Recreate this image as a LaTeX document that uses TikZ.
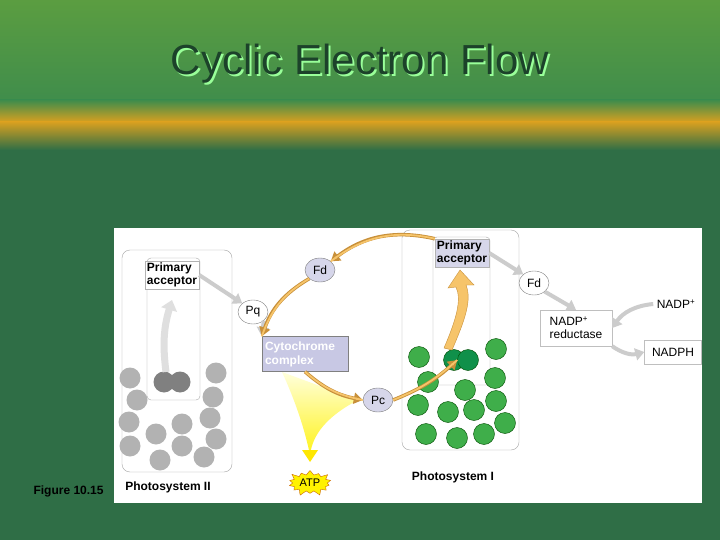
\documentclass[tikz,border=0pt]{standalone}
\usepackage{fontspec}
\setmainfont{Liberation Sans}
\usetikzlibrary{shapes.geometric,shapes.misc,shapes.symbols,arrows.meta}
\definecolor{bgtop}{HTML}{3E8C4C}
\definecolor{bgband}{HTML}{D8A020}
\definecolor{bgdark}{HTML}{2F6E46}
\definecolor{lav}{HTML}{D6D6EA}
\definecolor{cyt}{HTML}{C8C8E4}
\definecolor{pgreen}{HTML}{3FAE4A}
\definecolor{dgreen}{HTML}{10904A}
\definecolor{arr}{HTML}{F6C46A}
\definecolor{arrd}{HTML}{C8903A}
\tikzset{
 px/.style={x=1pt,y=-1pt},
 lbl/.style={font=\fontsize{12}{13}\selectfont},
 blbl/.style={font=\fontsize{12}{13}\selectfont\bfseries},
 ell/.style={ellipse,draw=gray,inner sep=1pt,minimum width=30pt,minimum height=24pt,lbl},
 gray arrow/.style={draw=gray!40,line width=4pt,-{Triangle[length=9pt,width=12pt]}},
 cyc/.style={draw=arrd,line width=3.5pt,-{Triangle[length=9pt,width=11pt,fill=arr]},postaction={draw=arr,line width=1.8pt,-}},
 psbox/.style={draw=gray!70,rounded corners=8pt,fill=white},
 gcirc/.style={circle,fill=gray!60,minimum size=21pt,inner sep=0pt},
 grcirc/.style={circle,fill=pgreen,draw=green!30!black,minimum size=21pt,inner sep=0pt},
}
\begin{document}
\begin{tikzpicture}[px]
\useasboundingbox (0,0) rectangle (720,540);
\shade[top color=bgtop!85!yellow,bottom color=bgtop] (0,0) rectangle (720,108);
\shade[top color=bgtop,bottom color=bgband] (0,100) rectangle (720,122);
\shade[top color=bgband,bottom color=bgdark] (0,122) rectangle (720,150);
\fill[bgdark] (0,150) rectangle (720,540);
\node[text=white!60!green,font=\fontsize{42}{46}\selectfont] at (362,66) {Cyclic Electron Flow};
\node (title) [text=bgdark!60!black,font=\fontsize{42}{46}\selectfont] at (360,64) {Cyclic Electron Flow};
% panel
\fill[white] (114,228) rectangle (702,503);
\node (fig) [blbl,anchor=west] at (30,491) {Figure 10.15};
% PSII
\draw[psbox] (122,250) rectangle (232,472);
\draw[draw=gray!70,rounded corners=4pt] (147,258) rectangle (200,400);
\foreach \p in {(130,378),(216,373),(137,400),(213,397),(129,422),(156,434),(182,424),(210,418),(130,446),(160,460),(182,446),(216,439),(204,457)}
  \node[gcirc] at \p {};
\node[gcirc,fill=gray] at (164,382) {};
\node[gcirc,fill=gray] (ps2c) at (180,382) {};
\node (pa2) [blbl,draw=gray!60,fill=white,align=left,inner sep=2pt] at (172,275) {Primary\\acceptor};
\draw[draw=gray!25,line width=7pt,-{Triangle[length=10pt,width=16pt]}] (166,372) to[bend left=12] (172,300);
\node (ps2) [blbl] at (168,487) {Photosystem II};
% PSI
\draw[psbox] (402,230) rectangle (519,450);
\draw[draw=gray!70,rounded corners=4pt] (433,237) rectangle (490,385);
\foreach \p in {(419,357),(496,349),(428,382),(495,378),(465,390),(418,405),(448,412),(474,410),(496,401),(426,434),(457,438),(484,434),(505,423)}
  \node[grcirc] at \p {};
\node[grcirc,fill=dgreen] at (454,360) {};
\node[grcirc,fill=dgreen] (ps1c) at (468,360) {};
\node (pa1) [blbl,draw=gray!60,fill=lav,align=left,inner sep=2pt] at (462,253) {Primary\\acceptor};
\node (ps1) [blbl] at (453,477) {Photosystem I};
% carriers
\node (pq) [ell,fill=white] at (253,312) {Pq};
\node (fd1) [ell,fill=lav] at (320,270) {Fd};
\node (pc) [ell,fill=lav] at (378,400) {Pc};
\node (fd2) [ell,fill=white] at (534,283) {Fd};
\node (cyt) [draw=gray,fill=cyt,text=white,font=\fontsize{12}{14}\selectfont\bfseries,align=left,minimum width=86pt,minimum height=35pt,inner sep=2pt,text width=80pt] at (305,354) {Cytochrome\\complex};
\node (red) [lbl,draw=gray!50,align=left,minimum width=72pt,minimum height=36pt] at (576,328) {NADP\textsuperscript{+}\\reductase};
\node (nadp) [lbl] at (676,304) {NADP\textsuperscript{+}};
\node (nadph) [lbl,draw=gray!50,minimum width=57pt,minimum height=24pt] at (673,352) {NADPH};
% ATP
\shade[top color=yellow!15,bottom color=yellow!90!orange,opacity=0.9] (282,372) -- (358,400) .. controls (320,420) and (312,440) .. (310,455) .. controls (305,430) and (295,400) .. (282,372) -- cycle;
\fill[yellow!90!orange] (302,450) -- (318,450) -- (310,462) -- cycle;
\node (atp) [starburst,starburst points=14,starburst point height=6pt,fill=yellow,draw=orange!80!black,font=\fontsize{11}{12}\selectfont,inner sep=2pt] at (310,483) {ATP};
% gray arrows
\draw[gray arrow] (pa2.east) -- (pq.north west);
\draw[gray arrow] (pq.south east) -- (cyt.north west);
\draw[gray arrow] (pa1.east) -- (fd2.north west);
\draw[gray arrow] (fd2.south east) -- (red.north);
\draw[gray arrow] (nadp.west) to[bend right=25] (red.east);
\draw[gray arrow] (red.south east) to[bend right=25] (nadph.west);
% cycle arrows
\draw[cyc] (pa1.north west) to[bend right=25] (fd1.north east);
\draw[cyc] (fd1.south west) to[bend right=20] (cyt.north west);
\draw[cyc] (cyt.south) to[bend right=15] (pc.west);
\draw[cyc] (pc.east) to[bend right=10] (ps1c.west);
\draw[draw=arrd,fill=arr] (452,350) .. controls (465,320) and (472,300) .. (466,285) -- (474,285) -- (460,270) -- (448,288) -- (456,287) .. controls (462,300) and (456,320) .. (444,348) -- cycle;
\end{tikzpicture}
\end{document}
